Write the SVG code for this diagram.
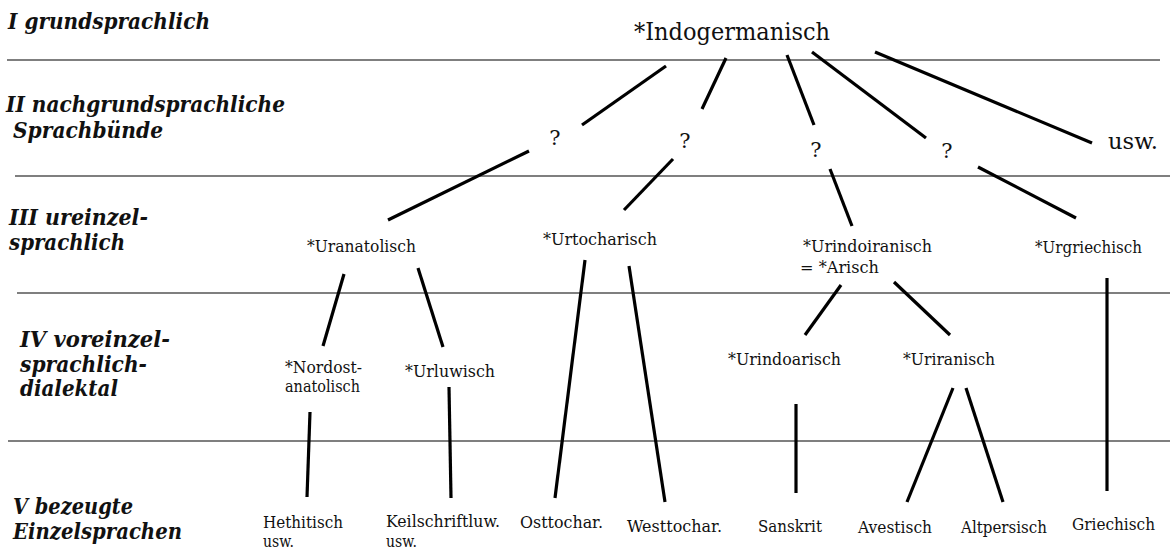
<svg xmlns="http://www.w3.org/2000/svg" width="1170" height="551" viewBox="0 0 1170 551">
<style>
text{font-family:"DejaVu Serif",serif;fill:#111}
.sep{stroke:#555;stroke-width:1.3;fill:none}
.row{font-style:italic;font-weight:bold;font-size:22.5px}
.n{font-size:17px}
.b{font-size:17px}
.q{font-size:21px;text-anchor:middle}
.big{font-size:24px}
#connectors line{stroke:#000;stroke-width:3.2;stroke-linecap:butt}
</style>
<rect width="1170" height="551" fill="#fff"/>
<g id="separators">
<line class="sep" x1="7" y1="60" x2="1160" y2="60"/>
<line class="sep" x1="15" y1="176" x2="1170" y2="176"/>
<line class="sep" x1="17" y1="293" x2="1170" y2="293"/>
<line class="sep" x1="8" y1="441" x2="1170" y2="441"/>
</g>
<g id="row-labels">
<text class="row" x="8" y="29" textLength="202" lengthAdjust="spacingAndGlyphs">I grundsprachlich</text>
<text class="row"><tspan x="6" y="112" textLength="279" lengthAdjust="spacingAndGlyphs">II nachgrundsprachliche</tspan><tspan x="13" y="138" textLength="150" lengthAdjust="spacingAndGlyphs">Sprachbünde</tspan></text>
<text class="row"><tspan x="9" y="225" textLength="139" lengthAdjust="spacingAndGlyphs">III ureinzel-</tspan><tspan x="9" y="250" textLength="116" lengthAdjust="spacingAndGlyphs">sprachlich</tspan></text>
<text class="row"><tspan x="20" y="347" textLength="150" lengthAdjust="spacingAndGlyphs">IV voreinzel-</tspan><tspan x="20" y="372" textLength="127" lengthAdjust="spacingAndGlyphs">sprachlich-</tspan><tspan x="20" y="396" textLength="98" lengthAdjust="spacingAndGlyphs">dialektal</tspan></text>
<text class="row"><tspan x="13" y="514" textLength="120" lengthAdjust="spacingAndGlyphs">V bezeugte</tspan><tspan x="13" y="539" textLength="169" lengthAdjust="spacingAndGlyphs">Einzelsprachen</tspan></text>
</g>
<g id="connectors">
<line x1="666" y1="66" x2="582" y2="125"/>
<line x1="726" y1="58" x2="702" y2="109"/>
<line x1="787" y1="55" x2="814" y2="125"/>
<line x1="812" y1="52" x2="926" y2="138"/>
<line x1="875" y1="52" x2="1092" y2="143"/>
<line x1="529" y1="151" x2="388" y2="220"/>
<line x1="673" y1="159" x2="624" y2="210"/>
<line x1="830" y1="169" x2="852" y2="226"/>
<line x1="978" y1="167" x2="1076" y2="218"/>
<line x1="344" y1="274" x2="323" y2="346"/>
<line x1="418" y1="268" x2="443" y2="347"/>
<line x1="585" y1="260" x2="555" y2="498"/>
<line x1="629" y1="266" x2="665" y2="502"/>
<line x1="841" y1="285" x2="805" y2="335"/>
<line x1="894" y1="282" x2="950" y2="335"/>
<line x1="310" y1="412" x2="307" y2="497"/>
<line x1="449" y1="387" x2="451" y2="498"/>
<line x1="796" y1="404" x2="796" y2="493"/>
<line x1="953" y1="388" x2="907" y2="502"/>
<line x1="966" y1="388" x2="1003" y2="502"/>
<line x1="1107" y1="278" x2="1107" y2="491"/>
</g>
<g id="indogermanisch"><text class="big" x="634" y="40" textLength="196" lengthAdjust="spacingAndGlyphs">*Indogermanisch</text></g>
<g id="q1"><text class="q" x="555" y="145">?</text></g>
<g id="q2"><text class="q" x="685" y="148">?</text></g>
<g id="q3"><text class="q" x="816" y="157">?</text></g>
<g id="q4"><text class="q" x="947" y="158">?</text></g>
<g id="usw-top"><text class="big" x="1108" y="149" style="font-size:22px" textLength="50" lengthAdjust="spacingAndGlyphs">usw.</text></g>
<g id="uranatolisch"><text class="n" x="307" y="252" textLength="109" lengthAdjust="spacingAndGlyphs">*Uranatolisch</text></g>
<g id="urtocharisch"><text class="n" x="543" y="245" textLength="114" lengthAdjust="spacingAndGlyphs">*Urtocharisch</text></g>
<g id="urindoiranisch"><text class="n"><tspan x="803" y="252" textLength="129" lengthAdjust="spacingAndGlyphs">*Urindoiranisch</tspan><tspan x="800" y="273" textLength="79" lengthAdjust="spacingAndGlyphs">= *Arisch</tspan></text></g>
<g id="urgriechisch"><text class="n" x="1035" y="253" textLength="107" lengthAdjust="spacingAndGlyphs">*Urgriechisch</text></g>
<g id="nordostanatolisch"><text class="n"><tspan x="285" y="373" textLength="77" lengthAdjust="spacingAndGlyphs">*Nordost-</tspan><tspan x="285" y="392" textLength="75" lengthAdjust="spacingAndGlyphs">anatolisch</tspan></text></g>
<g id="urluwisch"><text class="n" x="405" y="377" textLength="90" lengthAdjust="spacingAndGlyphs">*Urluwisch</text></g>
<g id="urindoarisch"><text class="n" x="728" y="365" textLength="113" lengthAdjust="spacingAndGlyphs">*Urindoarisch</text></g>
<g id="uriranisch"><text class="n" x="903" y="365" textLength="92" lengthAdjust="spacingAndGlyphs">*Uriranisch</text></g>
<g id="hethitisch"><text class="b"><tspan x="263" y="528" textLength="80" lengthAdjust="spacingAndGlyphs">Hethitisch</tspan><tspan x="263" y="547" textLength="31" lengthAdjust="spacingAndGlyphs">usw.</tspan></text></g>
<g id="keilschriftluw"><text class="b"><tspan x="386" y="527" textLength="114" lengthAdjust="spacingAndGlyphs">Keilschriftluw.</tspan><tspan x="386" y="547" textLength="31" lengthAdjust="spacingAndGlyphs">usw.</tspan></text></g>
<g id="osttochar"><text class="b" x="520" y="528" textLength="83" lengthAdjust="spacingAndGlyphs">Osttochar.</text></g>
<g id="westtochar"><text class="b" x="627" y="532" textLength="95" lengthAdjust="spacingAndGlyphs">Westtochar.</text></g>
<g id="sanskrit"><text class="b" x="758" y="532" textLength="64" lengthAdjust="spacingAndGlyphs">Sanskrit</text></g>
<g id="avestisch"><text class="b" x="858" y="533" textLength="74" lengthAdjust="spacingAndGlyphs">Avestisch</text></g>
<g id="altpersisch"><text class="b" x="961" y="533" textLength="86" lengthAdjust="spacingAndGlyphs">Altpersisch</text></g>
<g id="griechisch"><text class="b" x="1072" y="530" textLength="83" lengthAdjust="spacingAndGlyphs">Griechisch</text></g>
</svg>
